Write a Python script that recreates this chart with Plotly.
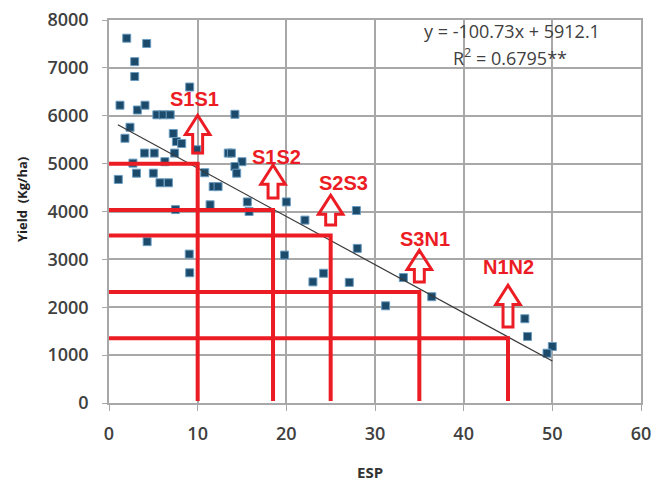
import plotly.graph_objects as go

# ---------------- data ----------------
esp = [2.0, 4.25, 2.9, 2.9, 1.24, 3.2, 4.06, 5.4, 6.1, 6.9, 9.1, 14.2,
       2.37, 1.8, 4.0, 5.1, 2.7, 3.1, 5.0, 1.05, 5.75, 6.7, 7.25, 7.6,
       7.4, 6.3, 7.5, 8.2, 9.9, 13.45, 13.8, 15.0, 14.2, 14.4, 10.8, 11.75,
       12.3, 11.4, 15.6, 15.8, 20.0, 22.1, 27.9, 28.0, 19.8, 23.0, 24.2,
       27.1, 31.2, 33.2, 36.4, 46.9, 47.2, 50.0, 49.4, 4.3, 9.05, 9.1]
yield_kg = [7620, 7510, 7130, 6820, 6220, 6120, 6220, 6020, 6020, 6020, 6600, 6030,
            5760, 5530, 5220, 5220, 5010, 4800, 4800, 4670, 4600, 4600, 5630, 5460,
            5220, 5040, 4040, 5420, 5290, 5220, 5220, 5040, 4940, 4800, 4810, 4520,
            4520, 4140, 4200, 4000, 4200, 3820, 4020, 3230, 3090, 2530, 2710,
            2520, 2030, 2620, 2220, 1760, 1390, 1180, 1040, 3370, 3110, 2720]

slope = -100.73
intercept = 5912.1
r2 = 0.6795
trend_range = [1.0, 50.0]

classes = ["S1S1", "S1S2", "S2S3", "S3N1", "N1N2"]
class_esp = [10, 18.5, 25, 35, 45]
class_yield = [5000, 4030, 3500, 2320, 1350]
arrow_base = [5220, 4280, 3720, 2530, 1590]
arrow_tip = [6010, 4970, 4340, 3190, 2460]

x_ticks = [0, 10, 20, 30, 40, 50, 60]
y_ticks = [0, 1000, 2000, 3000, 4000, 5000, 6000, 7000, 8000]

# ---------------- style ----------------
RED = "#ec1c24"
GRID = "#a8a8a8"
TXT = "#404040"
FONT = "Open Sans"

fig = go.Figure()

# scatter points
fig.add_trace(go.Scatter(
    x=esp, y=yield_kg, mode="markers",
    marker=dict(symbol="square", size=8, color="#1c4a6a",
                line=dict(color="#6b9cc0", width=1)),
    showlegend=False, hoverinfo="x+y"))

# trend line
tx = trend_range
ty = [slope * v + intercept for v in tx]
fig.add_trace(go.Scatter(x=tx, y=ty, mode="lines",
                         line=dict(color="#3a3a3a", width=1.2),
                         showlegend=False, hoverinfo="skip"))

# red class boundary lines
lx, ly = [], []
for cx, cy in zip(class_esp, class_yield):
    lx += [0, cx, cx, None]
    ly += [cy, cy, 40, None]
fig.add_trace(go.Scatter(x=lx, y=ly, mode="lines",
                         line=dict(color=RED, width=4),
                         showlegend=False, hoverinfo="skip"))

# hollow up arrows (path shapes)
head_hw = 1.38   # half width of head (ESP units)
shaft_hw = 0.56  # half width of shaft
head_h = 400     # head height (yield units)
shapes = []
for cx, b, t in zip(class_esp, arrow_base, arrow_tip):
    pts = [(cx - shaft_hw, b), (cx - shaft_hw, t - head_h), (cx - head_hw, t - head_h),
           (cx, t), (cx + head_hw, t - head_h), (cx + shaft_hw, t - head_h),
           (cx + shaft_hw, b)]
    path = "M " + " L ".join(f"{px},{py}" for px, py in pts) + " Z"
    shapes.append(dict(type="path", path=path, xref="x", yref="y",
                       line=dict(color=RED, width=3), fillcolor="rgba(0,0,0,0)",
                       layer="above"))

# class labels
label_dx = [-0.4, 0.4, 1.5, 0.6, 0.0]
label_dy = [16, 8, 12, 11, 18]
annotations = []
for name, cx, t, dx, dy in zip(classes, class_esp, arrow_tip, label_dx, label_dy):
    annotations.append(dict(x=cx + dx, y=t, xref="x", yref="y", text=name,
                            showarrow=False, xanchor="center", yanchor="middle", yshift=dy,
                            font=dict(family="Liberation Sans", size=20, color=RED,
                                      weight="bold")))

# equation
annotations.append(dict(x=0.758, y=0.971, xref="paper", yref="paper",
                        xanchor="center", yanchor="middle",
                        text=f"y = {slope}x + {intercept}", showarrow=False,
                        font=dict(family=FONT, size=18, color=TXT)))
annotations.append(dict(x=0.754, y=0.904, xref="paper", yref="paper",
                        xanchor="center", yanchor="middle",
                        text=f"R<sup>2</sup> = {r2}**", showarrow=False,
                        font=dict(family=FONT, size=18, color=TXT)))
# axis titles
annotations.append(dict(x=0.49, y=-0.18, xref="paper", yref="paper", text="ESP",
                        xanchor="center", yanchor="middle", showarrow=False,
                        font=dict(family=FONT, size=15, color="#333333", weight="bold")))
annotations.append(dict(x=-0.1635, y=0.53, xref="paper", yref="paper",
                        xanchor="center", yanchor="middle",
                        text="Yield  (Kg/ha)", textangle=-90, showarrow=False,
                        font=dict(family=FONT, size=13, color="#222222", weight="bold")))

fig.update_layout(
    width=654, height=488,
    margin=dict(l=109, r=13, t=20, b=85, autoexpand=False),
    paper_bgcolor="white", plot_bgcolor="white",
    shapes=shapes, annotations=annotations,
    font=dict(family=FONT, color=TXT),
)
fig.update_xaxes(range=[0, 60], tickvals=x_ticks, showgrid=True, gridcolor=GRID,
                 gridwidth=1.5, showline=True, linecolor=GRID, linewidth=1.5, mirror=True,
                 ticks="outside", ticklen=6, tickcolor=GRID, zeroline=False,
                 automargin=False,
                 tickfont=dict(family=FONT, size=18, color=TXT, weight=600),
                 ticklabelstandoff=8)
fig.update_yaxes(range=[0, 8000], tickvals=y_ticks, showgrid=True, gridcolor=GRID,
                 gridwidth=1.5, showline=True, linecolor=GRID, linewidth=1.5, mirror=True,
                 ticks="outside", ticklen=5, tickcolor=GRID, zeroline=False,
                 automargin=False,
                 tickfont=dict(family=FONT, size=18, color=TXT, weight=600),
                 ticklabelstandoff=10)

fig.write_html("out.html")
